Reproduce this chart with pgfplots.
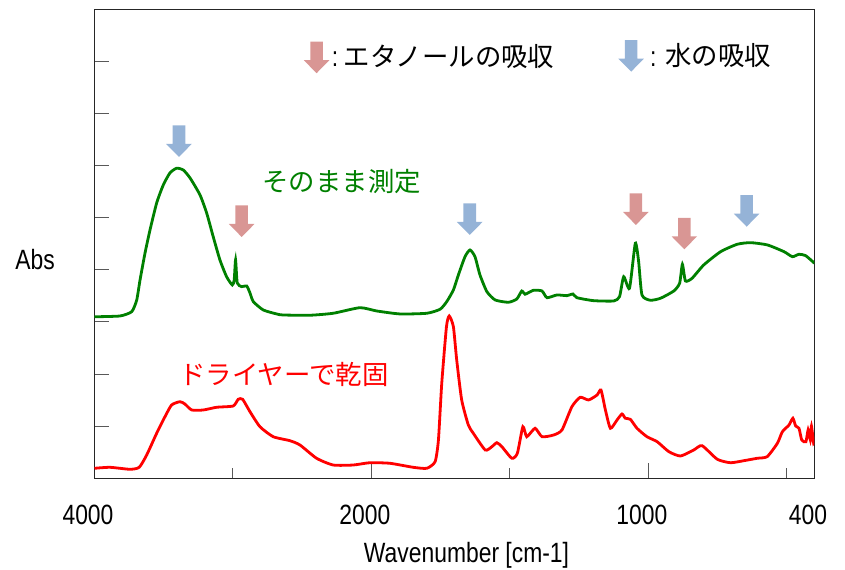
\documentclass[border=0pt]{standalone}
\usepackage{fontspec}
\setmainfont[FakeStretch=0.82]{Liberation Sans}
\newfontfamily\jp{Noto Sans CJK JP}
\usepackage{pgfplots}
\pgfplotsset{compat=1.18}

\definecolor{spgreen}{HTML}{008000}
\definecolor{spred}{HTML}{FF0000}
\definecolor{arrblue}{HTML}{95B3D7}
\definecolor{arrpink}{HTML}{D99694}

% block arrow pointing down, tip at the data point
\pgfdeclareplotmark{dnarrow}{%
  \pgfpathmoveto{\pgfpoint{-6.3bp}{31.5bp}}%
  \pgfpathlineto{\pgfpoint{6.3bp}{31.5bp}}%
  \pgfpathlineto{\pgfpoint{6.3bp}{13bp}}%
  \pgfpathlineto{\pgfpoint{12.8bp}{13bp}}%
  \pgfpathlineto{\pgfpoint{0bp}{0bp}}%
  \pgfpathlineto{\pgfpoint{-12.8bp}{13bp}}%
  \pgfpathlineto{\pgfpoint{-6.3bp}{13bp}}%
  \pgfpathclose
  \pgfusepathqfill}

\begin{document}
\begin{tikzpicture}
\path[use as bounding box] (-94.5bp,-91.7bp) rectangle (750.5bp,478.3bp);
\begin{axis}[
    scale only axis,
    width=720bp, height=469bp,
    at={(0,0)}, anchor=south west,
    x dir=reverse,
    % scale halves above 2000 cm-1
    x coord trafo/.code={\pgfmathparse{#1>2000 ? 2000+0.5*(#1-2000) : #1}},
    x coord inv trafo/.code={\pgfmathparse{#1>2000 ? 2000+2*(#1-2000) : #1}},
    xmin=400, xmax=4000,
    ymin=0, ymax=9,
    xtick={4000,2000,1000,400},
    xticklabels={4000,2000,1000,400},
    extra x ticks={3000,1500,500},
    extra x tick labels={},
    extra x tick style={major tick length=10bp},
    ytick={1,2,...,8},
    yticklabels={},
    tick pos=left,
    tick align=inside,
    major tick length=15bp,
    tick style={line width=1bp, black!65},
    axis line style={line width=1.3bp, black!85},
    xticklabel style={font=\fontsize{28}{30}\selectfont, anchor=base,
        yshift=-45.7bp, xshift=-6.5bp, inner sep=0pt},
]
\addplot[spgreen, line width=2.8bp, smooth, tension=0.35] coordinates {
(4000,3.10) (3816,3.115) (3731,3.198) (3695,3.422) (3671,3.806) (3635,4.324)
(3599,4.766) (3551,5.284) (3503,5.630) (3455,5.860) (3407,5.950) (3359,5.917)
(3310,5.764) (3238,5.438) (3190,5.092) (3142,4.631) (3094,4.190) (3046,3.869)
(3005,3.710) (2991,3.806) (2981,4.190) (2969,3.749) (2937,3.678) (2901,3.691)
(2877,3.557) (2853,3.390) (2781,3.230) (2685,3.154) (2639,3.134) (2444,3.129)
(2276,3.167) (2083,3.274) (1981,3.211) (1897,3.154) (1800,3.167) (1752,3.244)
(1728,3.390) (1704,3.614) (1686,3.902) (1662,4.253) (1644,4.382) (1626,4.253)
(1608,3.902) (1583,3.582) (1553,3.422) (1505,3.378) (1475,3.441) (1457,3.595)
(1445,3.532) (1415,3.608) (1384,3.595) (1366,3.466) (1330,3.518) (1294,3.505)
(1272,3.537) (1258,3.466) (1198,3.409) (1125,3.403) (1104,3.486) (1089,3.869)
(1068,3.647) (1047,4.511) (1035,4.157) (1023,3.518) (993,3.417) (956,3.455)
(908,3.595) (887,3.743) (877,4.107) (866,3.787) (842,3.839) (800,4.094)
(739,4.349) (679,4.491) (631,4.522) (570,4.478) (510,4.349) (480,4.253)
(456,4.299) (432,4.273) (400,4.127)
};
\addplot[spred, line width=2.8bp, smooth, tension=0.35] coordinates {
(4000,0.192) (3888,0.211) (3744,0.173) (3677,0.211) (3623,0.447) (3551,0.864)
(3491,1.182) (3443,1.407) (3383,1.470) (3347,1.426) (3298,1.311) (3214,1.311)
(3118,1.363) (2998,1.388) (2962,1.516) (2930,1.516) (2877,1.278) (2805,0.990)
(2709,0.798) (2589,0.722) (2516,0.639) (2396,0.384) (2276,0.255) (2131,0.255)
(2011,0.299) (1933,0.288) (1849,0.211) (1800,0.192) (1770,0.319) (1758,0.735)
(1746,1.823) (1729,2.910) (1719,3.115) (1704,2.910) (1692,2.271) (1674,1.503)
(1650,1.023) (1632,0.864) (1589,0.543) (1565,0.607) (1547,0.683) (1529,0.607)
(1493,0.384) (1473,0.480) (1453,0.990) (1439,0.798) (1409,0.960) (1384,0.798)
(1342,0.831) (1312,0.927) (1276,1.374) (1246,1.555) (1216,1.503) (1185,1.599)
(1171,1.695) (1155,1.311) (1137,0.960) (1113,1.119) (1095,1.234) (1083,1.152)
(1065,1.132) (1041,0.960) (1005,0.798) (968,0.702) (926,0.511) (884,0.428)
(836,0.543) (806,0.626) (751,0.365) (703,0.299) (655,0.338) (607,0.384)
(571,0.415) (534,0.672) (516,0.894) (492,1.023) (478,1.152) (468,1.004)
(456,0.960) (446,0.735) (431,0.702) (423,0.927) (415,0.735) (411,1.004)
(403,0.672) (400,0.768)
};
% water bands
\addplot[only marks, mark=dnarrow, color=arrblue] coordinates {
(3390,6.167) (1645,4.670) (645,4.829) (1062,7.804)
};
% ethanol bands
\addplot[only marks, mark=dnarrow, color=arrpink] coordinates {
(2937,4.631) (1045,4.862) (870,4.395) (2396,7.774)
};
\end{axis}
\node[anchor=base, inner sep=0pt, font=\fontsize{28}{30}\selectfont] at (-59.5bp,209bp) {Abs};
\node[anchor=base, inner sep=0pt, font=\fontsize{28}{30}\selectfont] at (12bp,-83.7bp) {};
\node[anchor=base, inner sep=0pt, font=\fontsize{28}{30}\selectfont] at (372bp,-83.7bp) {Wavenumber [cm-1]};
\node[inner sep=0pt, text=spgreen, font=\jp\fontsize{26.5}{28}\selectfont] at (247.2bp,296.3bp) {そのまま測定};
\node[inner sep=0pt, text=spred, font=\jp\fontsize{26.5}{28}\selectfont] at (189.5bp,103.8bp) {ドライヤーで乾固};
\node[anchor=base, inner sep=0pt, font=\fontsize{28}{30}\selectfont] at (240.5bp,411.8bp) {:};
\node[inner sep=0pt, font=\jp\fontsize{26.5}{28}\selectfont] at (354.5bp,421.6bp) {エタノールの吸収};
\node[anchor=base, inner sep=0pt, font=\fontsize{28}{30}\selectfont] at (558.8bp,411.8bp) {:};
\node[inner sep=0pt, font=\jp\fontsize{26.5}{28}\selectfont] at (623.8bp,422.3bp) {水の吸収};
\end{tikzpicture}
\end{document}
